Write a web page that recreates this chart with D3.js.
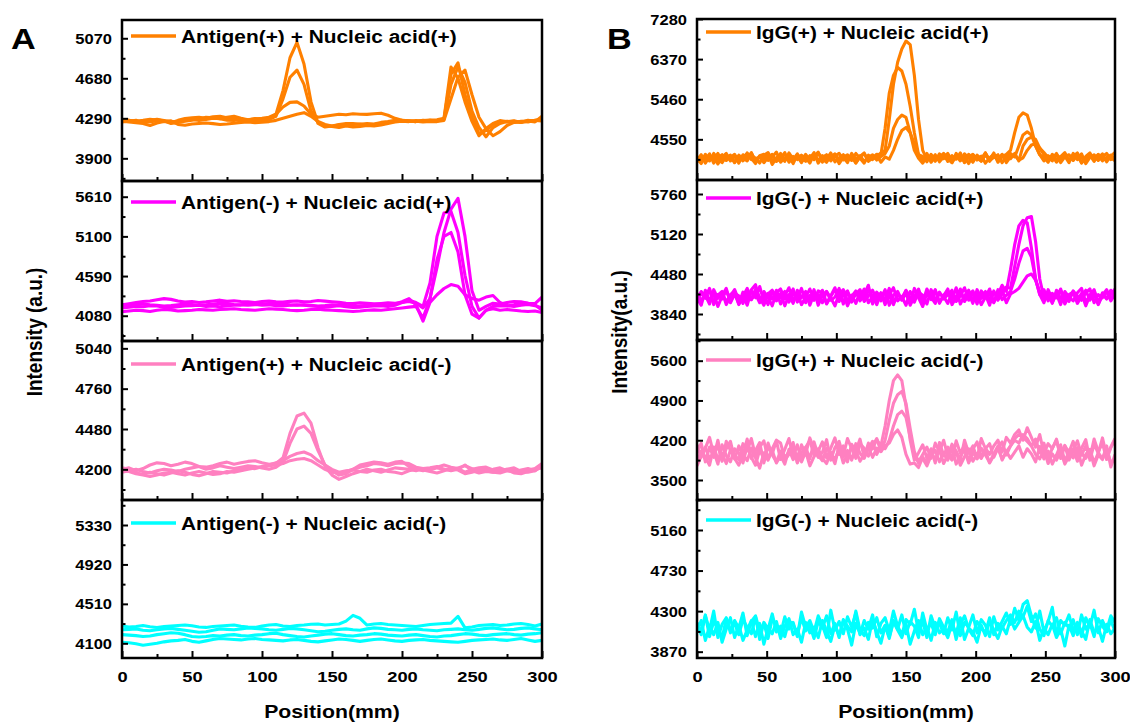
<!DOCTYPE html>
<html>
<head>
<meta charset="utf-8">
<script src="https://cdn.jsdelivr.net/npm/d3@7"></script>
<style>
  body { margin: 0; background: #fff; }
  text { font-family: Arial, "Liberation Sans", sans-serif; font-weight: bold; fill: #000; }
</style>
</head>
<body>
<svg id="chart" width="1130" height="723"></svg>
<script>
// ---- data (intensity profiles) ----
// panel A traces are sampled every 5 mm (61 points), panel B every 3 mm (101 points)

const antigenPP = [
  [4265,4272,4258,4262,4270,4280,4268,4255,4262,4275,4282,4270,4278,4290,4285,4272,4268,4280,4276,4288,4282,4290,
   4330,4560,4880,5030,4820,4450,4240,
   4205,4215,4225,4220,4230,4235,4225,4230,4240,4250,4262,4270,4265,4258,4268,4272,4262,4285,
   4720,4830,4520,4300,4140,4170,
   4230,4255,4262,4250,4258,4265,4255,4310],
  [4255,4262,4270,4250,4258,4265,4262,4248,4270,4288,4295,4300,4290,4305,4310,4295,4285,4262,4270,4278,4265,4280,
   4310,4480,4690,4760,4620,4360,4250,
   4220,4210,4200,4215,4205,4210,4220,4215,4225,4240,4255,4262,4258,4268,4262,4270,4275,4290,
   4790,4680,4450,4260,4120,4190,
   4240,4268,4255,4262,4250,4270,4262,4290],
  [4275,4268,4262,4270,4280,4272,4265,4240,4250,4262,4272,4280,4300,4295,4285,4300,4310,4290,4275,4282,4290,4300,
   4330,4400,4445,4450,4410,4330,4300,
   4310,4320,4330,4325,4335,4330,4328,4335,4340,4320,4290,4270,4265,4258,4270,4262,4268,4280,
   4620,4790,4640,4360,4200,4110,
   4200,4240,4258,4265,4250,4262,4270,4280],
  [4262,4255,4248,4240,4220,4245,4258,4265,4230,4222,4235,4240,4245,4238,4230,4235,4242,4250,4255,4248,4252,4258,
   4270,4290,4310,4330,4345,4310,4260,
   4230,4215,4230,4240,4238,4232,4240,4235,4250,4258,4272,4265,4260,4262,4255,4260,4258,4270,
   4480,4690,4760,4520,4300,4190,
   4120,4160,4220,4250,4262,4255,4270,4265]
];

const antigenMP = [
  [4220,4235,4250,4262,4270,4285,4300,4290,4270,4255,4262,4250,4258,4270,4280,4265,4272,4262,4258,4250,
   4262,4270,4260,4255,4265,4270,4258,4262,4275,4268,4260,4252,4240,4235,4245,4240,4232,4238,4245,4240,
   4250,4262,4240,
   4180,4300,4700,5150,5450,5590,5100,4400,4150,4200,
   4240,4230,4250,4262,4258,4240,4235,4320],
  [4180,4190,4200,4195,4210,4205,4190,4185,4195,4205,4210,4215,4200,4205,4195,4210,4215,4220,4230,4225,
   4215,4220,4210,4205,4215,4222,4215,4205,4198,4190,4200,4210,4195,4185,4190,4200,4205,4210,4200,4215,
   4250,4280,4250,
   4200,4500,5100,5400,5420,5150,4600,4200,4050,4150,
   4200,4210,4205,4220,4250,4240,4220,4150],
  [4130,4140,4150,4145,4135,4150,4160,4155,4140,4145,4150,4160,4155,4150,4160,4165,4170,4160,4155,4150,
   4160,4170,4165,4160,4150,4145,4150,4160,4165,4155,4150,4145,4140,4135,4140,4150,4155,4150,4160,4170,
   4180,4190,4200,
   4050,4300,4800,5100,5150,4900,4350,4100,4050,4150,
   4170,4150,4160,4150,4140,4135,4140,4120],
  [4200,4210,4225,4230,4220,4215,4205,4210,4220,4230,4225,4215,4220,4230,4240,4235,4225,4220,4215,4222,
   4230,4238,4242,4230,4220,4215,4222,4215,4205,4210,4220,4215,4210,4200,4205,4215,4220,4212,4225,4230,
   4260,4300,4220,
   4010,4250,4350,4430,4480,4460,4350,4300,4280,4320,
   4340,4250,4210,4200,4215,4225,4210,4180]
];

const antigenPM = [
  [4200,4210,4190,4205,4230,4245,4240,4225,4235,4250,4240,4220,4215,4225,4240,4250,4235,4245,4255,4260,4245,4235,4240,
   4280,4450,4570,4590,4520,4350,4220,4160,4130,
   4150,4170,4185,4200,4190,4180,4195,4210,4205,4200,4190,4205,4210,4220,4200,4195,4210,4225,4205,4185,
   4195,4200,4210,4190,4180,4195,4205,4190,4220],
  [4180,4190,4200,4185,4175,4190,4200,4195,4185,4200,4210,4220,4200,4210,4225,4215,4205,4215,4225,4220,4210,4200,4215,
   4250,4380,4480,4500,4450,4330,4230,4190,4160,
   4170,4200,4230,4240,4250,4245,4235,4250,4255,4220,4200,4190,4205,4215,4230,4215,4205,4180,4200,4210,
   4215,4195,4185,4200,4210,4185,4195,4205,4240],
  [4210,4200,4175,4165,4180,4170,4160,4175,4190,4180,4165,4155,4170,4185,4180,4175,4190,4200,4210,4205,4220,4230,4245,
   4260,4290,4310,4320,4300,4260,4230,4200,4180,
   4190,4195,4185,4180,4195,4200,4185,4180,4170,4190,4200,4195,4185,4175,4190,4205,4195,4170,4180,4195,
   4190,4180,4175,4190,4195,4185,4180,4190,4230],
  [4190,4185,4170,4160,4150,4160,4175,4180,4170,4160,4175,4185,4175,4165,4170,4185,4180,4190,4200,4210,4215,4225,4230,
   4240,4260,4270,4275,4260,4230,4200,4180,4175,
   4185,4200,4215,4225,4240,4235,4225,4240,4245,4240,4215,4205,4195,4210,4200,4190,4200,4230,4190,4175,
   4185,4180,4195,4200,4175,4170,4185,4200,4210]
];

const antigenMM = [
  [4280,4270,4275,4285,4272,4265,4275,4280,4285,4290,4282,4270,4265,4275,4280,4285,4290,4278,4270,4265,
   4280,4290,4295,4280,4275,4285,4290,4298,4300,4290,4295,4300,4330,4390,4360,4290,4300,4305,4295,4290,
   4285,4280,4275,4285,4295,4300,4305,4310,4380,4260,4270,4285,4290,4295,4285,4290,4300,4305,4295,4280,4300],
  [4240,4245,4250,4235,4230,4240,4250,4255,4245,4235,4225,4215,4220,4235,4250,4245,4240,4250,4260,4255,
   4250,4240,4235,4245,4255,4250,4240,4230,4220,4225,4235,4245,4250,4240,4235,4250,4260,4255,4245,4240,
   4235,4245,4250,4240,4235,4230,4240,4245,4250,4240,4235,4245,4255,4260,4250,4240,4245,4255,4260,4250,4240],
  [4190,4185,4180,4170,4175,4190,4200,4210,4205,4190,4170,4165,4170,4180,4175,4185,4190,4180,4175,4185,
   4190,4200,4205,4190,4180,4170,4165,4175,4185,4195,4200,4190,4180,4175,4185,4190,4200,4195,4185,4180,
   4175,4185,4190,4180,4170,4165,4175,4180,4190,4200,4195,4185,4180,4190,4195,4200,4190,4185,4195,4200,4210],
  [4110,4105,4095,4080,4090,4100,4115,4125,4130,4140,4120,4110,4125,4140,4150,4145,4140,4135,4145,4150,
   4140,4135,4130,4125,4135,4140,4130,4120,4115,4125,4135,4145,4140,4130,4120,4130,4140,4145,4135,4125,
   4120,4130,4135,4140,4130,4125,4120,4115,4110,4120,4130,4135,4140,4145,4135,4130,4140,4150,4135,4120,4130]
];

const iggPP = [
  [4150,4030,4210,4090,4180,3990,4140,4230,4060,4170,4010,4200,4110,4250,4040,4160,4090,4220,3980,4130,
   4190,4050,4240,4100,4170,4020,4210,4080,4150,4260,4030,4180,4110,4220,4000,4140,4200,4070,4230,4120,
   4010,4190,4090,4160,4240,4300,5000,5800,6300,6600,6780,6700,6000,5000,4300,4100,4180,4050,4220,4110,
   4170,4020,4230,4080,4150,4000,4200,4120,4060,4190,4090,4240,4030,4160,4210,4300,4700,5050,5150,5100,
   4800,4400,4200,4060,4180,4110,4230,4020,4150,4200,4070,4190,4010,4160,4240,4080,4130,4220,4040,4170,4250],
  [4080,4200,4010,4160,4110,4230,4050,4140,4190,4020,4170,4060,4240,4120,4000,4180,4210,4070,4150,4260,
   4030,4130,4190,4090,4220,4040,4160,4110,4250,4010,4140,4200,4060,4170,4230,4080,4120,4190,4020,4160,
   4240,4050,4130,4210,4200,4800,5600,6000,6180,6100,5800,5300,4700,4200,4090,4230,4030,4160,4120,4210,
   4050,4180,4100,4240,4020,4150,4210,4080,4170,4010,4130,4200,4060,4190,4110,4230,4150,4400,4650,4720,
   4650,4400,4200,4140,4030,4210,4090,4160,4250,4050,4180,4120,4220,4000,4140,4200,4070,4160,4230,4090,4130],
  [4120,4000,4180,4060,4230,4100,4020,4170,4140,4210,4040,4150,4220,4090,4130,4010,4190,4250,4060,4110,
   4230,4080,4160,4000,4200,4120,4050,4180,4090,4240,4110,4030,4170,4210,4060,4150,4020,4230,4100,4180,
   4050,4140,4200,4080,4160,4230,4400,4800,5000,5100,5050,4700,4300,4120,4010,4170,4090,4200,4040,4150,
   4230,4070,4120,4190,4030,4210,4100,4160,4050,4240,4080,4140,4200,4020,4170,4110,4230,4060,4400,4550,
   4600,4550,4350,4200,4100,4180,4030,4140,4220,4070,4160,4240,4020,4110,4190,4050,4200,4130,4080,4150,4060],
  [4040,4160,4090,4220,4010,4130,4200,4070,4150,4030,4190,4120,4060,4230,4080,4170,4020,4140,4210,4050,
   4110,4250,4030,4160,4090,4190,4130,4010,4220,4070,4180,4100,4240,4040,4130,4200,4080,4160,4010,4150,
   4220,4070,4120,4190,4030,4150,4100,4300,4550,4750,4820,4700,4450,4200,4160,4040,4210,4080,4140,4230,
   4100,4020,4170,4060,4220,4130,4030,4190,4110,4240,4050,4160,4090,4210,4020,4150,4200,4080,4130,4300,
   4420,4450,4350,4250,4140,4060,4200,4110,4170,4020,4230,4090,4150,4040,4180,4120,4210,4060,4140,4190,4100]
];

const iggMP = [
  [4100,3980,4220,4050,4170,3960,4130,4250,4020,4160,4000,4190,4080,4230,4310,4060,4150,3990,4210,4090,
   4170,3970,4140,4240,4030,4110,4200,3980,4160,4070,4220,4010,4130,4260,4040,4180,3970,4120,4210,4050,
   4150,4300,4000,4190,4090,4230,3980,4140,4200,4060,4170,4010,4250,4100,3960,4180,4070,4220,4030,4130,
   4240,3990,4110,4200,4050,4170,4010,4230,4090,4150,3980,4210,4060,4160,4270,4250,4600,4950,5250,5380,
   5400,5000,4400,4100,4190,4030,4150,4220,4000,4120,4200,4060,4170,3970,4140,4230,4020,4180,4090,4150,4240],
  [4030,4180,4090,4250,4010,4140,4200,3990,4120,4230,4060,4150,3980,4210,4100,4280,4040,4170,4080,4220,
   4000,4130,4260,4050,4180,3990,4110,4240,4070,4150,4020,4200,4100,3970,4160,4230,4050,4140,4010,4190,
   4080,4220,4130,3990,4170,4060,4250,4020,4150,4100,4210,3980,4120,4240,4040,4160,4090,4230,4010,4140,
   4190,4070,4260,4000,4130,4220,4050,4170,3990,4110,4240,4030,4150,4300,4200,4550,4950,5250,5340,5300,
   4900,4400,4150,4020,4230,4080,4160,3990,4200,4110,4050,4180,4250,4030,4140,4210,4000,4160,4080,4220,4120],
  [4170,4060,4140,4000,4230,4090,4180,4030,4150,4210,3990,4120,4250,4070,4160,4020,4200,4110,3970,4180,
   4240,4080,4150,4010,4220,4100,4170,4050,4230,3980,4140,4200,4060,4110,4250,4000,4190,4080,4160,4230,
   4040,4130,4220,4070,4180,3990,4150,4260,4050,4120,3980,4200,4090,4170,4030,4240,4110,4010,4190,4080,
   4150,4220,4040,4130,4260,4060,4180,4000,4210,4100,4160,4020,4230,4070,4140,4200,4400,4650,4850,4890,
   4750,4400,4150,4230,4050,4170,4100,4240,4030,4150,4190,4010,4120,4220,4060,4160,3990,4140,4230,4070,4180],
  [4060,4200,4120,4230,3990,4150,4080,4220,4040,4170,4130,4010,4190,4070,4240,4100,3980,4160,4220,4050,
   4110,4200,4030,4170,4090,4250,4020,4140,4060,4210,4180,4000,4120,4230,4080,4150,4210,4030,4170,4090,
   4240,4020,4110,4180,4050,4200,4130,3990,4160,4070,4220,4100,4030,4190,4140,4000,4230,4060,4170,4120,
   4010,4180,4090,4240,4040,4150,4210,4070,4130,4200,4050,4190,4110,4230,4020,4160,4200,4250,4350,4450,
   4480,4380,4200,4060,4170,4010,4220,4090,4150,4040,4210,4130,4060,4180,4240,4020,4150,4100,4200,4050,4160]
];

const iggPM = [
  [3980,4150,3820,4080,3900,4200,3850,4050,4180,3870,4100,3940,4220,3880,4020,4160,3800,4090,3960,4190,
   3860,4040,4230,3910,4120,3840,4070,4200,3930,4010,4170,3890,4060,4240,3950,4100,3820,4130,4010,4220,
   3900,4150,4050,4210,4100,4450,4900,5250,5350,5250,4800,4200,3850,3980,4120,3880,4050,3800,4160,3940,
   4080,3860,4190,3970,4110,3830,4040,4170,3900,4060,3950,4100,4200,3990,4250,4150,4300,4380,4200,4420,
   4250,4080,4300,3960,4140,4050,4220,3880,4100,3990,4180,3900,4060,4210,3850,4130,3970,4240,3920,4080,4230],
  [4120,3900,4060,4250,3950,4100,3830,4180,4020,3940,3860,4140,4010,4230,3920,4080,4190,3870,4050,4200,
   4150,3880,4000,4160,3810,4120,3960,4240,4040,3900,3990,4210,3850,4070,4180,3930,4230,4050,3880,4140,
   4060,3920,4100,4230,4000,4200,4550,4850,5000,5060,4850,4400,4000,3820,3950,4080,3880,4150,4000,4200,
   3920,4130,4010,3850,4200,3970,4100,3880,4230,4050,4140,3900,4060,4170,3940,4100,4230,4300,4250,4180,
   4100,4220,3980,4150,3870,4060,4200,3930,4110,3850,4020,4190,3940,4100,3890,4220,4000,4150,3860,4070,4210],
  [3750,3920,4080,3860,4000,3780,4120,3930,3820,4050,3970,3800,4100,3900,3760,4030,3880,4150,3940,3820,
   4010,3850,3950,4120,3800,3980,4080,3870,4170,3930,3840,4060,3960,3790,4100,3900,4020,3850,4140,3970,
   3880,4050,4180,3950,4100,4050,4200,4450,4650,4710,4600,4250,3950,3800,3880,3750,3930,4020,3820,3960,
   3850,4080,3780,3920,4030,3800,3990,3870,4060,3940,3810,3960,4100,3850,4000,3880,3990,4100,3900,4050,
   3960,3820,4090,3870,4010,3780,3940,4120,3830,4000,3890,4070,3760,3950,4040,3800,3980,3870,4100,3730,3950],
  [3820,4010,3900,3760,4080,3870,3970,3790,4030,3880,3760,3950,3840,4060,3890,3710,3980,3850,4020,3800,
   3930,3780,4040,3860,3960,3820,4000,3750,3910,4050,3880,3790,3990,3850,4060,3800,3940,3870,4020,3830,
   3950,4080,3900,4060,4000,4100,4150,4300,4380,4250,3950,3780,3800,3720,3900,3810,3980,3860,4030,3790,
   3940,3850,4000,3760,3910,4050,3830,3960,3880,4020,3800,3930,4060,3870,4000,4100,4200,4150,4300,4230,
   4100,3950,3870,4040,3790,3960,3850,4010,3780,3920,4050,3830,3970,3880,4020,3750,3940,3860,4060,3800,3880]
];

const iggMM = [
  [4180,4050,4250,4100,4300,4020,4160,4230,4070,4200,4120,4280,4040,4190,4250,4090,4170,4010,4220,4140,
   4060,4240,4110,4180,4030,4290,4130,4200,4080,4250,4150,4020,4310,4100,4190,4060,4240,4130,4280,4050,
   4200,4110,4260,4030,4170,4230,4090,4300,4140,4050,4210,4160,4320,4080,4190,4020,4250,4120,4170,4060,
   4230,4100,4290,4040,4180,4130,4260,4070,4210,4150,4030,4240,4100,4190,4280,4160,4330,4200,4370,4410,
   4250,4120,4300,4080,4190,4340,4050,4200,4150,4260,4090,4180,4030,4230,4130,4310,4070,4200,4100,4250,4180],
  [4080,4200,3990,4140,4050,4180,3970,4110,4230,4020,4150,3990,4100,4200,4030,4170,3950,4120,4060,4190,
   4010,4140,4220,4050,4110,3970,4180,4070,4130,4020,4200,4090,3980,4150,4040,4190,4110,3940,4170,4060,
   4120,4000,4210,4080,3960,4140,4030,4190,4100,4020,4160,3950,4090,4200,4050,4130,3990,4180,4070,4110,
   4020,4170,4060,4230,4000,4120,4080,3970,4150,4040,4190,4100,4010,4140,4060,4220,4110,4180,4250,4130,
   4080,4190,3990,4120,4050,4160,4020,4110,3930,4150,4040,4170,4090,4000,4210,4070,4130,3980,4160,4060,4120],
  [4150,4090,4260,4030,4190,4120,4010,4220,4100,4170,4050,4210,4130,4060,4240,4000,4180,4110,4270,4080,
   4140,4030,4200,4160,4050,4230,4090,4150,4010,4190,4120,4250,4060,4170,4020,4210,4140,4080,4300,4100,
   4040,4180,4120,4230,4070,4150,4010,4200,4110,4260,4060,4190,4140,4020,4280,4100,4170,4050,4220,4130,
   4080,4210,4000,4160,4250,4110,4040,4190,4120,4070,4230,4050,4170,4120,4200,4260,4180,4300,4240,4350,
   4190,4270,4110,4040,4200,4140,4230,4060,4180,4120,4210,4050,4260,4110,4170,4030,4220,4140,4080,4200,4090]
];

const legendA = ['Antigen(+) + Nucleic acid(+)', 'Antigen(-) + Nucleic acid(+)',
                 'Antigen(+) + Nucleic acid(-)', 'Antigen(-) + Nucleic acid(-)'];
const legendB = ['IgG(+) + Nucleic acid(+)', 'IgG(-) + Nucleic acid(+)',
                 'IgG(+) + Nucleic acid(-)', 'IgG(-) + Nucleic acid(-)'];

const ticksA = [[3900,4290,4680,5070],[4080,4590,5100,5610],[4200,4480,4760,5040],[4100,4510,4920,5330]];
const ticksB = [[4550,5460,6370,7280],[3840,4480,5120,5760],[3500,4200,4900,5600],[3870,4300,4730,5160]];
const domainsA = [[3679,5248],[3755,5812],[3987,5091],[3947,5590]];
const domainsB = [[3627,7280],[3424,5984],[3148,5964],[3803,5478]];

const xMajor = [0,50,100,150,200,250,300];
const xMinor = [25,75,125,175,225,275];
const colors = ['#ff8000', '#ff00ff', '#ff80c0', '#00ffff'];

// ---- layout ----
const svg = d3.select('#chart');
svg.append('rect').attr('width', 1130).attr('height', 723).attr('fill', '#fff');
const sx = 1.18;      // the source figure is stretched horizontally
const sxLegend = 1.13;

const panels = [
  { letter: 'A', left: 122, right: 542, tops: [20, 181, 341, 500], bottom: 658,
    series: [antigenPP, antigenMP, antigenPM, antigenMM], names: legendA,
    ticks: ticksA, domains: domainsA, legendDy: [16, 21, 23, 23],
    title: 'Intensity (a.u.)', letterX: 11, titleX: 42 },
  { letter: 'B', left: 697, right: 1115, tops: [19, 180, 340, 500], bottom: 658,
    series: [iggPP, iggMP, iggPM, iggMM], names: legendB,
    ticks: ticksB, domains: domainsB, legendDy: [13, 18, 20, 20],
    title: 'Intensity(a.u.)', letterX: 607, titleX: 627 }
];

function cleanAxis(g) {
  g.attr('font-family', null).attr('font-size', null);
  g.select('.domain').remove();
  g.selectAll('.tick line').attr('stroke', '#000').attr('stroke-width', 2);
}

panels.forEach((p) => {
  const x = d3.scaleLinear().domain([0, 300]).range([p.left, p.right]);

  p.tops.forEach((top, k) => {
    const bottom = k < 3 ? p.tops[k + 1] : p.bottom;
    const y = d3.scaleLinear().domain(p.domains[k]).range([bottom, top]);
    const cid = `clip${p.letter}${k}`;
    svg.append('clipPath').attr('id', cid)
      .append('rect').attr('x', p.left).attr('y', top)
      .attr('width', p.right - p.left).attr('height', bottom - top);

    // traces
    const line = d3.line()
      .x((d, i, arr) => x(i * 300 / (arr.length - 1)))
      .y((d) => y(d));
    svg.append('g').attr('clip-path', `url(#${cid})`)
      .selectAll('path').data(p.series[k]).join('path')
      .attr('d', (d) => line(d))
      .attr('fill', 'none')
      .attr('stroke', colors[k])
      .attr('stroke-width', 3.1)
      .attr('stroke-linejoin', 'round');

    // y axis, ticks inward
    const major = p.ticks[k];
    const step = major[1] - major[0];
    const minor = [major[0] - step / 2].concat(major.map((t) => t + step / 2))
      .filter((t) => t > p.domains[k][0] && t < p.domains[k][1]);
    svg.append('g').attr('transform', `translate(${p.left},0)`)
      .call(d3.axisLeft(y).tickValues(minor).tickSize(-3.5).tickFormat(''))
      .call(cleanAxis);
    const ya = svg.append('g').attr('transform', `translate(${p.left},0)`)
      .call(d3.axisLeft(y).tickValues(major).tickSize(-6).tickFormat(d3.format('d')))
      .call(cleanAxis);
    ya.selectAll('.tick text')
      .attr('x', 0).attr('dy', '0.36em')
      .attr('transform', `translate(-10,0) scale(${sx},1)`)
      .style('font-size', '14px');

    // x axis, ticks inward
    svg.append('g').attr('transform', `translate(0,${bottom})`)
      .call(d3.axisBottom(x).tickValues(xMinor).tickSize(-4).tickFormat(''))
      .call(cleanAxis);
    const xa = svg.append('g').attr('transform', `translate(0,${bottom})`)
      .call(d3.axisBottom(x).tickValues(xMajor).tickSize(-7).tickFormat(k === 3 ? d3.format('d') : ''))
      .call(cleanAxis);
    xa.selectAll('.tick text')
      .attr('y', 0).attr('dy', 0)
      .attr('transform', `translate(0,24) scale(${sx},1)`)
      .style('font-size', '15.5px');

    // frame
    svg.append('rect')
      .attr('x', p.left).attr('y', top)
      .attr('width', p.right - p.left).attr('height', bottom - top)
      .attr('fill', 'none').attr('stroke', '#000').attr('stroke-width', 2.5);

    // legend
    const ly = top + p.legendDy[k];
    svg.append('line')
      .attr('x1', p.left + 9).attr('x2', p.left + 54)
      .attr('y1', ly).attr('y2', ly)
      .attr('stroke', colors[k]).attr('stroke-width', 3.5);
    svg.append('text')
      .attr('transform', `translate(${p.left + 59},${ly + 7}) scale(${sxLegend},1)`)
      .style('font-size', '18.5px')
      .text(p.names[k]);
  });

  // titles
  svg.append('text')
    .attr('transform', `translate(${(p.left + p.right) / 2},718) scale(${sx},1)`)
    .attr('text-anchor', 'middle')
    .style('font-size', '18px')
    .text('Position(mm)');
  svg.append('text')
    .attr('transform', `translate(${p.titleX},332) rotate(-90) scale(1,${sx})`)
    .attr('text-anchor', 'middle')
    .style('font-size', '19px')
    .text(p.title);
  svg.append('text')
    .attr('transform', `translate(${p.letterX},49) scale(${sx},1)`)
    .style('font-size', '29px')
    .text(p.letter);
});
</script>
</body>
</html>
